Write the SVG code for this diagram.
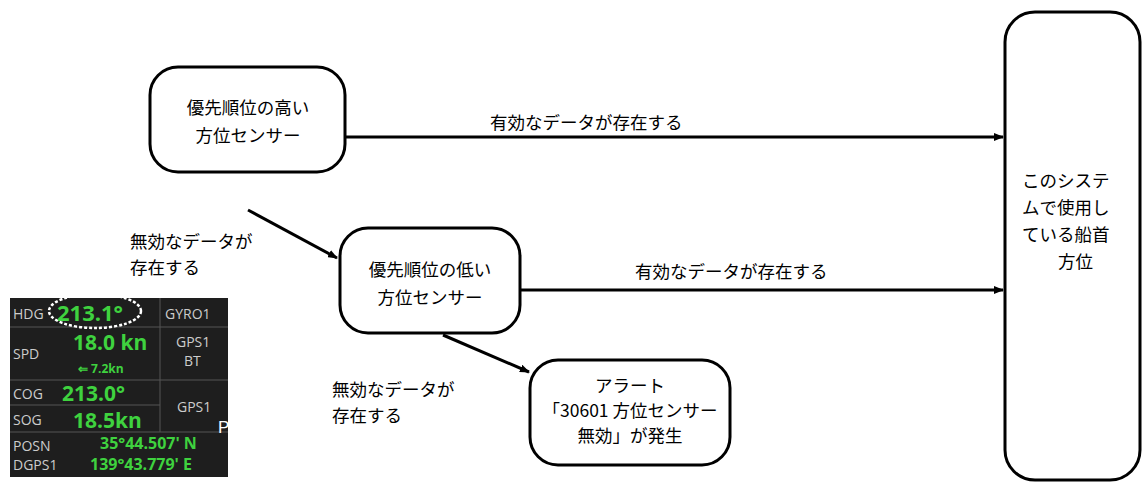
<svg xmlns="http://www.w3.org/2000/svg" width="1148" height="504" viewBox="0 0 1148 504">
<style>
.n{fill:#fff;stroke:#000;stroke-width:3}
.t{font-family:"Noto Sans CJK JP","Noto Sans",sans-serif;font-size:17.5px;fill:#000}
.c{stroke:#000;stroke-width:3;fill:none;marker-end:url(#a)}
.g{font-family:"Open Sans","Liberation Sans",sans-serif;font-weight:bold;fill:#3fd23f}
.w{font-family:"Open Sans","Liberation Sans",sans-serif;fill:#ccc;font-size:14px}
.l{stroke:#555;stroke-width:1}
</style>
<defs><marker id="a" markerWidth="10" markerHeight="8" refX="9" refY="4" orient="auto" markerUnits="userSpaceOnUse"><path d="M0,0L10,4L0,8z" fill="#000"/></marker></defs>
<rect width="1148" height="504" fill="#fff"/>
<g id="connectors">
<line class="c" x1="345" y1="137" x2="1003" y2="137"/>
<line class="c" x1="520" y1="290" x2="1003" y2="290"/>
<line class="c" x1="248" y1="210" x2="337" y2="258"/>
<line class="c" x1="443" y1="335" x2="529" y2="372"/>
<text class="t" x="490" y="129">有効なデータが存在する</text>
<text class="t" x="635" y="278">有効なデータが存在する</text>
<text class="t" x="130" y="248">無効なデータが</text>
<text class="t" x="130" y="274">存在する</text>
<text class="t" x="332" y="396">無効なデータが</text>
<text class="t" x="332" y="422">存在する</text>
</g>
<g id="n1"><rect class="n" x="150" y="67" width="195" height="105" rx="28"/>
<text class="t" x="248" y="114" text-anchor="middle">優先順位の高い</text>
<text class="t" x="248" y="142" text-anchor="middle">方位センサー</text></g>
<g id="n2"><rect class="n" x="340" y="228" width="180" height="105" rx="28"/>
<text class="t" x="430" y="276" text-anchor="middle">優先順位の低い</text>
<text class="t" x="430" y="304" text-anchor="middle">方位センサー</text></g>
<g id="n3"><rect class="n" x="530" y="360" width="200" height="105" rx="28"/>
<text class="t" x="630" y="392" text-anchor="middle">アラート</text>
<text class="t" x="630" y="417" text-anchor="middle">「30601 方位センサー</text>
<text class="t" x="630" y="442" text-anchor="middle">無効」が発生</text></g>
<g id="n4"><rect class="n" x="1005" y="12" width="135" height="468" rx="30"/>
<text class="t" x="1022" y="187" font-size="18">このシステ</text>
<text class="t" x="1022" y="214" font-size="18">ムで使用し</text>
<text class="t" x="1022" y="241" font-size="18">ている船首</text>
<text class="t" x="1058" y="268" font-size="18">方位</text></g>
<g id="panel">
<rect x="10" y="298" width="218" height="179" fill="#1e1e1e"/>
<line class="l" x1="10" y1="327" x2="228" y2="327"/>
<line class="l" x1="10" y1="380" x2="228" y2="380"/>
<line class="l" x1="10" y1="405" x2="160" y2="405"/>
<line class="l" x1="10" y1="432" x2="228" y2="432"/>
<line class="l" x1="160" y1="298" x2="160" y2="432"/>
<text class="w" x="13" y="319">HDG</text>
<text class="g" x="57" y="321" font-size="22">213.1°</text>
<text class="w" x="165" y="319">GYRO1</text>
<text class="g" x="73" y="350" font-size="21">18.0 kn</text>
<text class="w" x="13" y="359">SPD</text>
<text class="g" x="78" y="373" font-size="12">⇐ 7.2kn</text>
<text class="w" x="176" y="347">GPS1</text>
<text class="w" x="184" y="366">BT</text>
<text class="w" x="13" y="399">COG</text>
<text class="g" x="62" y="401" font-size="21">213.0°</text>
<text class="w" x="177" y="412">GPS1</text>
<text class="w" x="13" y="425">SOG</text>
<text class="g" x="73" y="428" font-size="21">18.5kn</text>
<text class="w" x="13" y="451">POSN</text>
<text class="w" x="13" y="470">DGPS1</text>
<text class="g" x="100" y="449" font-size="16">35°44.507' N</text>
<text class="g" x="90" y="470" font-size="16">139°43.779' E</text>
<ellipse cx="95" cy="311" rx="46" ry="17" fill="none" stroke="#fff" stroke-width="2.5" stroke-dasharray="3,2"/>
<text x="218" y="433" font-family="Liberation Sans,sans-serif" font-size="17" fill="#fff">P</text>
</g>
</svg>
